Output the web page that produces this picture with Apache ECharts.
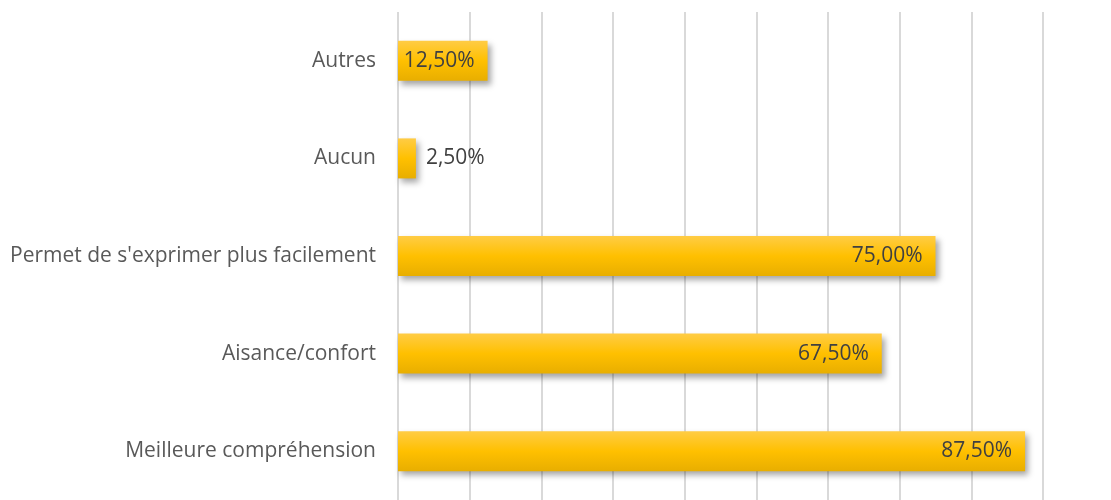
<!DOCTYPE html>
<html>
<head>
<meta charset="utf-8">
<script src="https://cdn.jsdelivr.net/npm/echarts@6/dist/echarts.min.js"></script>
<style>
  html, body { margin: 0; padding: 0; background: #fff; }
  #main { width: 1111px; height: 500px; }
</style>
</head>
<body>
<div id="main"></div>
<script>
// categories, bottom to top
const categories = [
  'Meilleure compréhension',
  'Aisance/confort',
  "Permet de s'exprimer plus facilement",
  'Aucun',
  'Autres'
];
const values = [87.5, 67.5, 75, 2.5, 12.5];
// bars too short to hold their label get it outside
const outsideLabel = [false, false, false, true, false];

const fmt = v => v.toFixed(2).replace('.', ',') + '%';

const barColor = new echarts.graphic.LinearGradient(0, 0, 0, 1, [
  { offset: 0, color: '#ffcc45' },
  { offset: 0.5, color: '#ffc000' },
  { offset: 1, color: '#e8ae00' }
]);

const chart = echarts.init(document.getElementById('main'));
chart.setOption({
  animation: false,
  textStyle: { fontFamily: 'Open Sans' },
  grid: { left: 398, right: 68, top: 12, bottom: -3, containLabel: false },
  xAxis: {
    type: 'value',
    min: 0,
    max: 90,
    interval: 10,
    axisLabel: { show: false },
    axisLine: { show: false },
    axisTick: { show: false },
    splitLine: { lineStyle: { color: '#d9d9d9', width: 2 } }
  },
  yAxis: {
    type: 'category',
    data: categories,
    axisLine: { show: false },
    axisTick: { show: false },
    axisLabel: { color: '#595959', fontSize: 21, margin: 22 }
  },
  series: [{
    type: 'bar',
    barWidth: '41%',
    data: values.map((v, i) => ({
      value: v,
      label: {
        position: outsideLabel[i] ? 'right' : 'insideRight',
        distance: outsideLabel[i] ? 10 : 13
      }
    })),
    itemStyle: {
      color: barColor,
      shadowColor: 'rgba(0,0,0,0.35)',
      shadowBlur: 6,
      shadowOffsetX: 3,
      shadowOffsetY: 4
    },
    label: {
      show: true,
      color: '#404040',
      fontSize: 21,
      formatter: p => fmt(p.value)
    }
  }]
});
</script>
</body>
</html>
